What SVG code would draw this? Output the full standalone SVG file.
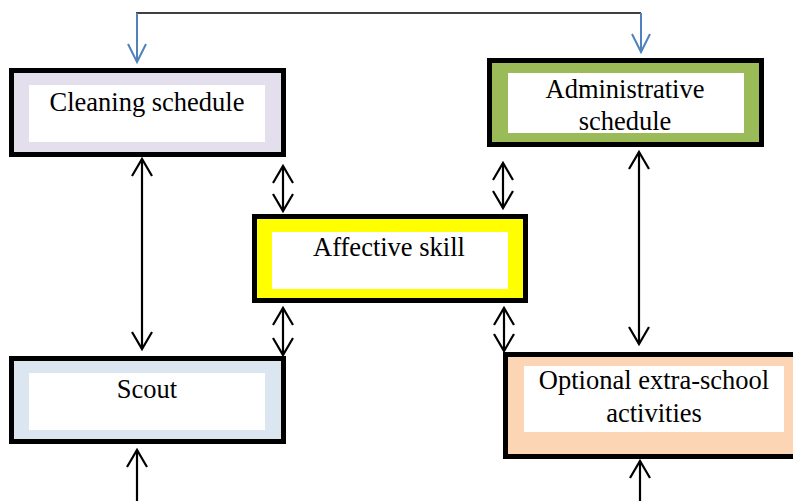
<svg xmlns="http://www.w3.org/2000/svg" width="793" height="501" viewBox="0 0 793 501">
<defs>
<marker id="ah" markerUnits="userSpaceOnUse" markerWidth="40" markerHeight="40" refX="0" refY="0" orient="auto-start-reverse" overflow="visible">
<path d="M-17,-10 L0,0 L-17,10" fill="none" stroke="#000" stroke-width="2.2"/>
</marker>
<marker id="bh" markerUnits="userSpaceOnUse" markerWidth="40" markerHeight="40" refX="0" refY="0" orient="auto" overflow="visible">
<path d="M-18,-9 L0,0 L-18,9" fill="none" stroke="#4F81BD" stroke-width="2"/>
</marker>
</defs>
<style>
.box{stroke:#000;stroke-width:5}
.inner{fill:#fff}
.t{font-family:"Liberation Serif","Times New Roman",serif;font-size:26.5px;fill:#000;text-anchor:middle}
.c{fill:none;stroke:#000;stroke-width:2.2}
.b{fill:none;stroke:#4F81BD;stroke-width:2}
</style>
<rect width="793" height="501" fill="#fff"/>
<g id="connectors">
<path d="M136,13 H641" fill="none" stroke="#000" stroke-width="1.6"/>
<path class="b" d="M137,13 V62" marker-end="url(#bh)"/>
<path class="b" d="M641,13 V52" marker-end="url(#bh)"/>
<path class="c" d="M142,159 V349" marker-start="url(#ah)" marker-end="url(#ah)"/>
<path class="c" d="M639,152 V344" marker-start="url(#ah)" marker-end="url(#ah)"/>
<path class="c" d="M283,166 V211" marker-start="url(#ah)" marker-end="url(#ah)"/>
<path class="c" d="M503,163 V208" marker-start="url(#ah)" marker-end="url(#ah)"/>
<path class="c" d="M283,308 V355" marker-start="url(#ah)" marker-end="url(#ah)"/>
<path class="c" d="M504,308 V351" marker-start="url(#ah)" marker-end="url(#ah)"/>
<path class="c" d="M137,501 V450" marker-end="url(#ah)"/>
<path class="c" d="M640,501 V461" marker-end="url(#ah)"/>
</g>
<g id="cleaning">
<rect class="box" x="11.5" y="70.5" width="272" height="84" fill="#E4DFEC"/>
<rect class="inner" x="29" y="85" width="236" height="57"/>
<text class="t" x="147" y="111">Cleaning schedule</text>
</g>
<g id="administrative">
<rect class="box" x="489.5" y="60.5" width="272" height="84" fill="#9BBB59"/>
<rect class="inner" x="508" y="73" width="236" height="60"/>
<text class="t" x="625" y="98">Administrative</text>
<text class="t" x="625" y="130">schedule</text>
</g>
<g id="affective">
<rect class="box" x="254.5" y="216.5" width="271" height="84" fill="#FFFF00"/>
<rect class="inner" x="272" y="232" width="236" height="57"/>
<text class="t" x="389" y="256">Affective skill</text>
</g>
<g id="scout">
<rect class="box" x="11.5" y="358.5" width="272" height="83" fill="#DCE6F1"/>
<rect class="inner" x="29" y="373" width="236" height="57"/>
<text class="t" x="147" y="398">Scout</text>
</g>
<g id="optional">
<rect class="box" x="505.5" y="354.5" width="300" height="102" fill="#FCD5B4"/>
<rect class="inner" x="524" y="366" width="260" height="66"/>
<text class="t" x="654" y="389">Optional extra-school</text>
<text class="t" x="654" y="422">activities</text>
</g>
</svg>
